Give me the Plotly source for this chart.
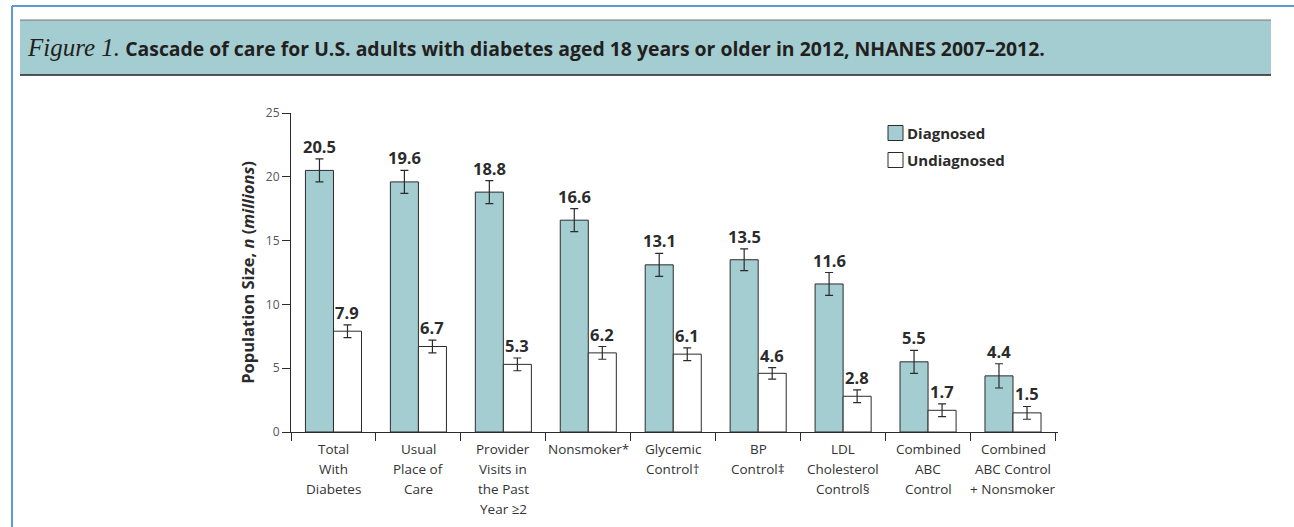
import plotly.graph_objects as go

# Cascade stages (x categories); "<br>" separates label lines
categories = [
    "Total<br>With<br>Diabetes",
    "Usual<br>Place of<br>Care",
    "Provider<br>Visits in<br>the Past<br>Year ≥2",
    "Nonsmoker*",
    "Glycemic<br>Control†",
    "BP<br>Control‡",
    "LDL<br>Cholesterol<br>Control§",
    "Combined<br>ABC<br>Control",
    "Combined<br>ABC Control<br>+ Nonsmoker",
]
diagnosed = [20.5, 19.6, 18.8, 16.6, 13.1, 13.5, 11.6, 5.5, 4.4]
undiagnosed = [7.9, 6.7, 5.3, 6.2, 6.1, 4.6, 2.8, 1.7, 1.5]
diagnosed_err = [0.9, 0.9, 0.9, 0.9, 0.9, 0.85, 0.9, 0.9, 0.95]
undiagnosed_err = [0.5, 0.5, 0.5, 0.5, 0.5, 0.45, 0.5, 0.5, 0.5]
series_names = ["Diagnosed", "Undiagnosed"]

W, H = 1294, 527
L, R, T, B = 291, 1058, 113, 432  # plot-area pixel box

TEAL = "#a3cdd0"
INK = "#2b2b2b"
TICK = "#555555"
FONT = "'Open Sans', sans-serif"
FILLS = [TEAL, "white"]


def px_x(px):
    return (px - L) / (R - L)


def px_y(py):
    return (B - py) / (B - T)


fig = go.Figure()
err_style = dict(type="data", thickness=1.2, width=4, color=INK)
for name, vals, errs, fill in zip(series_names, (diagnosed, undiagnosed),
                                  (diagnosed_err, undiagnosed_err), FILLS):
    fig.add_trace(go.Bar(
        name=name, x=categories, y=vals,
        marker=dict(color=fill, line=dict(color=INK, width=1)),
        error_y=dict(array=errs, **err_style),
        showlegend=False,
    ))

# value labels above the error bars
half = 0.165
annotations = []
for i, (d, de, u, ue) in enumerate(zip(diagnosed, diagnosed_err, undiagnosed, undiagnosed_err)):
    for xpos, val, err in ((i - half, d, de), (i + half, u, ue)):
        annotations.append(dict(
            x=xpos, y=val + err, xref="x", yref="y", text=f"<b>{val}</b>",
            showarrow=False, yanchor="bottom", yshift=-1,
            font=dict(family=FONT, size=16.5, color=INK),
        ))

# category labels under the axis, one text line per row with wider leading
LINE_GAP = 20
for i, cat in enumerate(categories):
    for j, line in enumerate(cat.split("<br>")):
        annotations.append(dict(
            x=i, y=0, xref="x", yref="y", text=line, showarrow=False,
            xanchor="center", yanchor="middle", yshift=-(17 + LINE_GAP * j),
            font=dict(family=FONT, size=13.5, color="#333333"),
        ))

# figure caption in the header band
annotations.append(dict(
    x=px_x(25), y=px_y(48), xref="paper", yref="paper", xanchor="left", yanchor="middle",
    showarrow=False,
    text=("<span style=\"font-family:'Liberation Serif', serif;font-size:25px\"><i>Figure 1.</i></span> "
          "<b>Cascade of care for U.S. adults with diabetes aged 18 years or older in 2012, "
          "NHANES 2007–2012.</b>"),
    font=dict(family=FONT, size=19.4, color="#231f20"),
))

shapes = [
    # page frame lines
    dict(type="line", xref="paper", yref="paper", x0=px_x(12), x1=px_x(W + 5),
         y0=px_y(6), y1=px_y(6), line=dict(color="#5b9bd5", width=2)),
    dict(type="line", xref="paper", yref="paper", x0=px_x(12), x1=px_x(12),
         y0=px_y(6), y1=px_y(H + 5), line=dict(color="#5b9bd5", width=2)),
    # header band
    dict(type="rect", xref="paper", yref="paper", x0=px_x(20), x1=px_x(1271),
         y0=px_y(75), y1=px_y(20), fillcolor=TEAL, line=dict(width=0), layer="below"),
    dict(type="line", xref="paper", yref="paper", x0=px_x(20), x1=px_x(1271),
         y0=px_y(20), y1=px_y(20), line=dict(color="#777777", width=1)),
    dict(type="line", xref="paper", yref="paper", x0=px_x(20), x1=px_x(1271),
         y0=px_y(75), y1=px_y(75), line=dict(color="#222222", width=1.5)),
]

# legend: swatch + label per series
for k, (name, fill) in enumerate(zip(series_names, FILLS)):
    cy = 133 + 27 * k
    shapes.append(dict(type="rect", xref="paper", yref="paper",
                       x0=px_x(888), x1=px_x(903), y0=px_y(cy + 7.5), y1=px_y(cy - 7.5),
                       fillcolor=fill, line=dict(color=INK, width=1)))
    annotations.append(dict(x=px_x(905), y=px_y(cy), xref="paper", yref="paper",
                            xanchor="left", yanchor="middle", showarrow=False,
                            text=f"<b>{name}</b>",
                            font=dict(family=FONT, size=15, color=INK)))

fig.update_layout(
    width=W, height=H,
    margin=dict(l=L, r=W - R, t=T, b=H - B, pad=0),
    paper_bgcolor="white", plot_bgcolor="white",
    barmode="group", bargap=0.34, bargroupgap=0,
    font=dict(family=FONT, color=INK),
    showlegend=False,
    annotations=annotations,
    shapes=shapes,
)
fig.update_xaxes(
    type="category", showline=True, linecolor=INK, linewidth=1,
    ticks="outside", tickson="boundaries", ticklen=8, tickcolor=INK,
    showticklabels=False,
    showgrid=False, zeroline=False, fixedrange=True,
)
fig.update_yaxes(
    range=[0, 25], tickvals=[0, 5, 10, 15, 20, 25],
    showline=True, linecolor=INK, linewidth=1,
    ticks="outside", ticklen=8, tickcolor=INK,
    tickfont=dict(family=FONT, size=12, color=TICK),
    showgrid=False, zeroline=False,
    title=dict(text="<b>Population Size, <i>n</i> (<i>millions</i>)</b>",
               font=dict(family=FONT, size=16.5, color=INK), standoff=7),
)

fig.write_html("out.html")
